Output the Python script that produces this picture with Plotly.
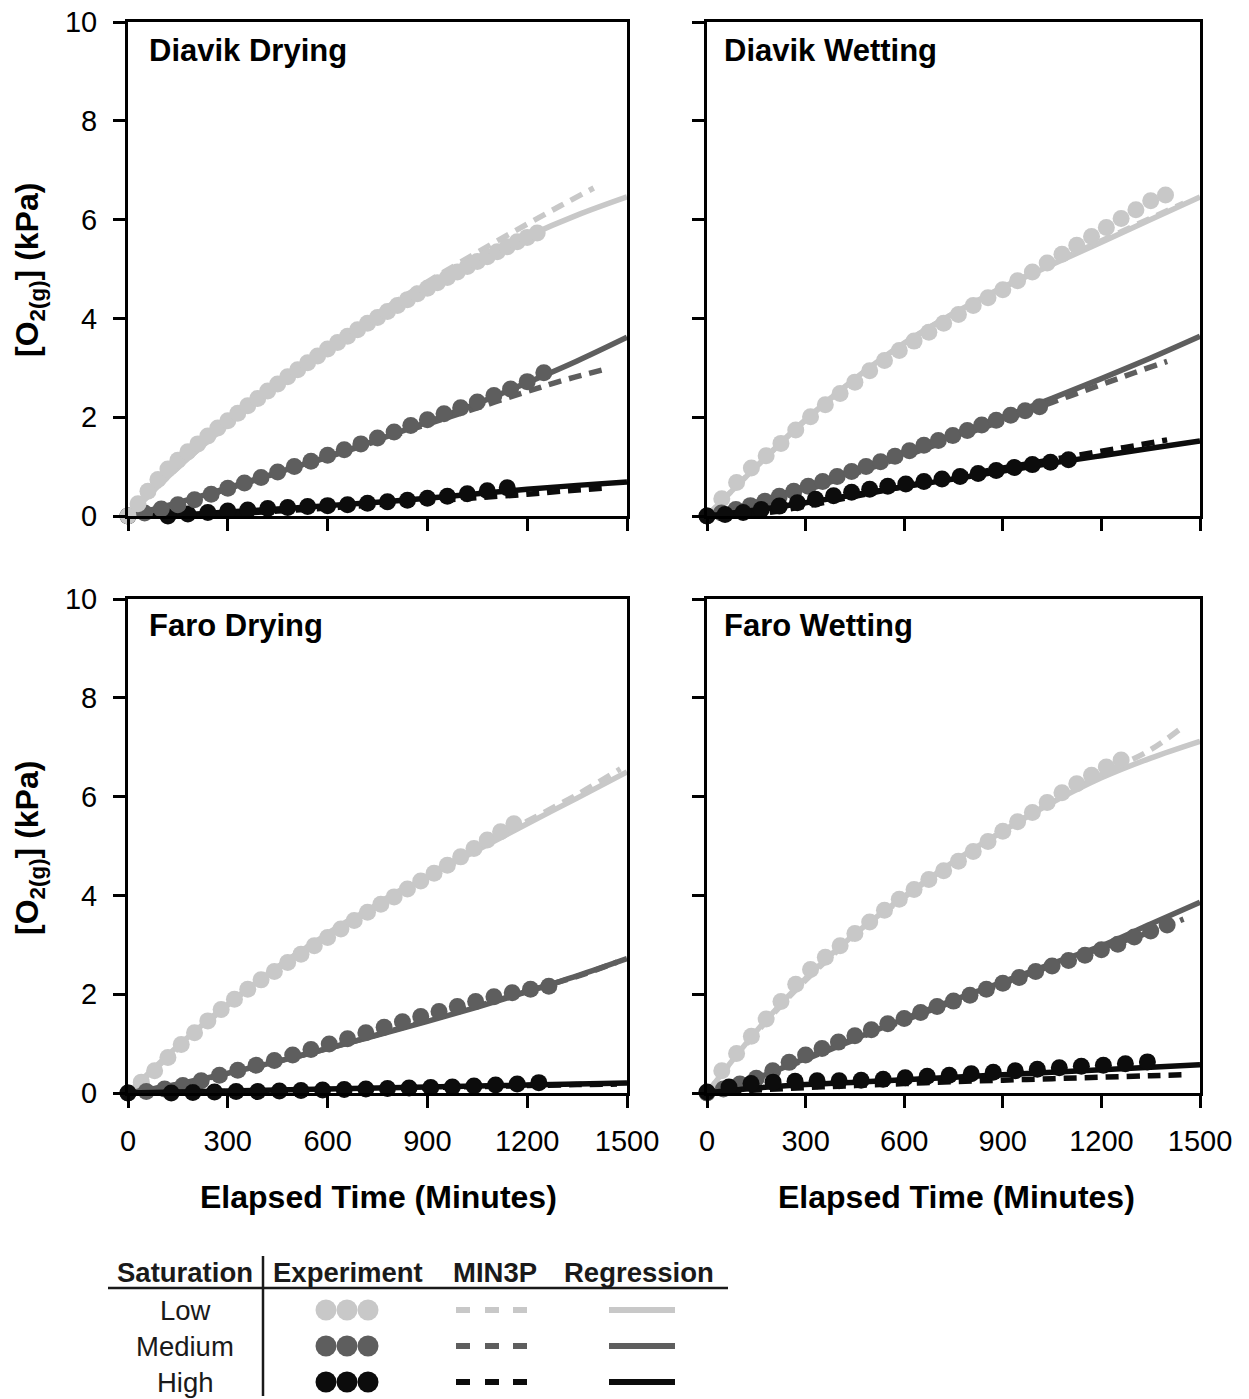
import plotly.graph_objects as go

# ---------------- data ----------------
REG_T = [0, 150, 300, 450, 600, 750, 900, 1050, 1200, 1350, 1500]

# Diavik Drying
DD_LOW_EXP_T = [0, 30, 60, 90, 120, 150, 180, 210, 240, 270, 300, 330, 360, 390, 420, 450, 480, 510, 540, 570, 600,
                630, 660, 690, 720, 750, 780, 810, 840, 870, 900, 930, 960, 990, 1020, 1050, 1080, 1110, 1140, 1170,
                1200, 1230]
DD_LOW_EXP_V = [0.00, 0.25, 0.50, 0.74, 0.95, 1.13, 1.30, 1.46, 1.62, 1.78, 1.93, 2.08, 2.23, 2.38, 2.53, 2.67, 2.82,
                2.96, 3.10, 3.24, 3.38, 3.51, 3.64, 3.77, 3.90, 4.02, 4.14, 4.26, 4.38, 4.50, 4.61, 4.72, 4.83, 4.94,
                5.05, 5.15, 5.25, 5.35, 5.45, 5.55, 5.64, 5.73]
DD_LOW_REG_V = [0, 0.98, 1.85, 2.64, 3.36, 4.02, 4.62, 5.17, 5.66, 6.09, 6.46]
DD_LOW_M3_T = [0, 100, 200, 300, 400, 500, 600, 700, 800, 900, 1000, 1100, 1200, 1300, 1400]
DD_LOW_M3_V = [0, 0.66, 1.28, 1.86, 2.41, 2.93, 3.42, 3.88, 4.32, 4.74, 5.14, 5.53, 5.91, 6.28, 6.64]

DD_MED_EXP_T = [0, 50, 100, 150, 200, 250, 300, 350, 400, 450, 500, 550, 600, 650, 700, 750, 800, 850, 900, 950,
                1000, 1050, 1100, 1150, 1200, 1250]
DD_MED_EXP_V = [0.00, 0.06, 0.14, 0.23, 0.33, 0.44, 0.56, 0.67, 0.78, 0.89, 1.00, 1.11, 1.23, 1.34, 1.46, 1.58, 1.70,
                1.83, 1.95, 2.07, 2.19, 2.31, 2.44, 2.57, 2.72, 2.90]
DD_MED_REG_V = [0, 0.27, 0.57, 0.88, 1.20, 1.54, 1.90, 2.28, 2.70, 3.14, 3.62]
DD_MED_M3_T = [0, 150, 300, 450, 600, 750, 900, 1050, 1200, 1300, 1440]
DD_MED_M3_V = [0, 0.24, 0.55, 0.87, 1.19, 1.52, 1.86, 2.19, 2.52, 2.73, 2.98]

DD_HIGH_EXP_T = [0, 60, 120, 180, 240, 300, 360, 420, 480, 540, 600, 660, 720, 780, 840, 900, 960, 1020, 1080, 1140]
DD_HIGH_EXP_V = [0.00, -0.03, 0.00, 0.04, 0.07, 0.10, 0.12, 0.15, 0.17, 0.19, 0.21, 0.23, 0.26, 0.29, 0.32, 0.36,
                 0.40, 0.45, 0.51, 0.57]
DD_HIGH_REG_V = [0, 0.02, 0.08, 0.14, 0.21, 0.28, 0.36, 0.45, 0.54, 0.62, 0.69]
DD_HIGH_M3_T = [0, 150, 300, 450, 600, 750, 900, 1050, 1200, 1300, 1440]
DD_HIGH_M3_V = [0, -0.02, 0.04, 0.10, 0.16, 0.23, 0.30, 0.37, 0.44, 0.50, 0.57]

# Diavik Wetting
DW_LOW_EXP_T = [0, 45, 90, 135, 180, 225, 270, 315, 360, 405, 450, 495, 540, 585, 630, 675, 720, 765, 810, 855, 900,
                945, 990, 1035, 1080, 1125, 1170, 1215, 1260, 1305, 1350, 1395]
DW_LOW_EXP_V = [0.00, 0.35, 0.68, 0.97, 1.22, 1.47, 1.74, 2.01, 2.25, 2.48, 2.71, 2.94, 3.15, 3.35, 3.54, 3.72, 3.90,
                4.08, 4.26, 4.42, 4.58, 4.76, 4.94, 5.12, 5.30, 5.48, 5.66, 5.84, 6.02, 6.20, 6.38, 6.50]
DW_LOW_REG_V = [0, 1.00, 1.95, 2.78, 3.50, 4.10, 4.62, 5.09, 5.54, 6.00, 6.46]
DW_LOW_M3_T = [0, 150, 300, 450, 600, 750, 900, 1050, 1200, 1350, 1450]
DW_LOW_M3_V = [0, 1.00, 1.94, 2.77, 3.49, 4.10, 4.63, 5.11, 5.57, 6.03, 6.33]

DW_MED_EXP_T = [0, 44, 88, 132, 176, 220, 264, 308, 352, 396, 440, 484, 528, 572, 616, 660, 704, 748, 792, 836, 880,
                924, 968, 1012]
DW_MED_EXP_V = [0.00, 0.06, 0.13, 0.21, 0.30, 0.40, 0.50, 0.60, 0.70, 0.80, 0.90, 1.00, 1.10, 1.21, 1.32, 1.43, 1.53,
                1.63, 1.73, 1.84, 1.94, 2.04, 2.13, 2.21]
DW_MED_REG_V = [0, 0.28, 0.60, 0.93, 1.28, 1.65, 2.00, 2.38, 2.78, 3.20, 3.64]
DW_MED_M3_T = [0, 150, 300, 450, 600, 750, 900, 1050, 1200, 1300, 1400]
DW_MED_M3_V = [0, 0.22, 0.52, 0.86, 1.21, 1.57, 1.93, 2.30, 2.66, 2.90, 3.13]

DW_HIGH_EXP_T = [0, 55, 110, 165, 220, 275, 330, 385, 440, 495, 550, 605, 660, 715, 770, 825, 880, 935, 990, 1045,
                 1100]
DW_HIGH_EXP_V = [0.00, 0.03, 0.07, 0.13, 0.20, 0.27, 0.34, 0.41, 0.48, 0.54, 0.60, 0.65, 0.70, 0.75, 0.80, 0.86, 0.92,
                 0.98, 1.04, 1.09, 1.14]
DW_HIGH_REG_V = [0, 0.12, 0.27, 0.43, 0.59, 0.75, 0.91, 1.07, 1.22, 1.37, 1.52]
DW_HIGH_M3_T = [0, 150, 300, 450, 600, 750, 900, 1050, 1200, 1300, 1400]
DW_HIGH_M3_V = [0, 0.04, 0.20, 0.40, 0.60, 0.79, 0.97, 1.14, 1.31, 1.42, 1.54]

# Faro Drying
FD_LOW_EXP_T = [0, 40, 80, 120, 160, 200, 240, 280, 320, 360, 400, 440, 480, 520, 560, 600, 640, 680, 720, 760, 800,
                840, 880, 920, 960, 1000, 1040, 1080, 1120, 1160]
FD_LOW_EXP_V = [0.00, 0.22, 0.45, 0.72, 0.98, 1.22, 1.46, 1.69, 1.90, 2.10, 2.29, 2.46, 2.64, 2.81, 2.98, 3.15, 3.32,
                3.49, 3.66, 3.82, 3.97, 4.13, 4.29, 4.45, 4.61, 4.78, 4.95, 5.12, 5.29, 5.45]
FD_LOW_REG_V = [0, 0.95, 1.80, 2.55, 3.22, 3.82, 4.38, 4.92, 5.45, 5.97, 6.50]
FD_LOW_M3_T = [0, 150, 300, 450, 600, 750, 900, 1050, 1200, 1350, 1480]
FD_LOW_M3_V = [0, 0.90, 1.78, 2.55, 3.23, 3.84, 4.41, 4.96, 5.50, 6.04, 6.56]

FD_MED_EXP_T = [0, 55, 110, 165, 220, 275, 330, 385, 440, 495, 550, 605, 660, 715, 770, 825, 880, 935, 990, 1045,
                1100, 1155, 1210, 1265]
FD_MED_EXP_V = [0.00, 0.03, 0.08, 0.15, 0.25, 0.36, 0.46, 0.56, 0.66, 0.77, 0.88, 0.99, 1.10, 1.22, 1.33, 1.44, 1.55,
                1.65, 1.75, 1.85, 1.95, 2.03, 2.10, 2.16]
FD_MED_REG_V = [0, 0.18, 0.40, 0.64, 0.90, 1.17, 1.45, 1.74, 2.05, 2.37, 2.72]
FD_MED_M3_T = [0, 150, 300, 450, 600, 750, 900, 1050, 1200, 1350, 1470]
FD_MED_M3_V = [0, 0.17, 0.39, 0.64, 0.90, 1.18, 1.47, 1.76, 2.06, 2.36, 2.65]

FD_HIGH_EXP_T = [0, 65, 130, 195, 260, 325, 390, 455, 520, 585, 650, 715, 780, 845, 910, 975, 1040, 1105, 1170, 1235]
FD_HIGH_EXP_V = [0.00, -0.01, 0.00, 0.01, 0.02, 0.03, 0.03, 0.04, 0.05, 0.06, 0.07, 0.08, 0.09, 0.10, 0.11, 0.12,
                 0.14, 0.16, 0.18, 0.21]
FD_HIGH_REG_V = [0, 0.02, 0.04, 0.06, 0.08, 0.10, 0.12, 0.14, 0.16, 0.18, 0.20]
FD_HIGH_M3_T = [0, 150, 300, 450, 600, 750, 900, 1050, 1200, 1350, 1470]
FD_HIGH_M3_V = [0, 0.01, 0.03, 0.05, 0.07, 0.09, 0.11, 0.13, 0.15, 0.17, 0.18]

# Faro Wetting
FW_LOW_EXP_T = [0, 45, 90, 135, 180, 225, 270, 315, 360, 405, 450, 495, 540, 585, 630, 675, 720, 765, 810, 855, 900,
                945, 990, 1035, 1080, 1125, 1170, 1215, 1260]
FW_LOW_EXP_V = [0.00, 0.45, 0.80, 1.15, 1.50, 1.85, 2.20, 2.50, 2.75, 2.98, 3.23, 3.46, 3.70, 3.92, 4.12, 4.32, 4.50,
                4.69, 4.89, 5.09, 5.30, 5.49, 5.68, 5.88, 6.08, 6.26, 6.43, 6.60, 6.74]
FW_LOW_REG_V = [0, 1.25, 2.32, 3.22, 3.98, 4.68, 5.30, 5.88, 6.38, 6.78, 7.12]
FW_LOW_M3_T = [0, 150, 300, 450, 600, 750, 900, 1050, 1200, 1350, 1440]
FW_LOW_M3_V = [0, 1.22, 2.28, 3.18, 3.96, 4.66, 5.30, 5.90, 6.45, 6.95, 7.37]

FW_MED_EXP_T = [0, 50, 100, 150, 200, 250, 300, 350, 400, 450, 500, 550, 600, 650, 700, 750, 800, 850, 900, 950,
                1000, 1050, 1100, 1150, 1200, 1250, 1300, 1350, 1400]
FW_MED_EXP_V = [0.00, 0.08, 0.18, 0.30, 0.45, 0.62, 0.77, 0.90, 1.03, 1.16, 1.28, 1.40, 1.51, 1.63, 1.75, 1.86, 1.98,
                2.10, 2.22, 2.34, 2.46, 2.57, 2.68, 2.79, 2.90, 3.01, 3.16, 3.28, 3.40]
FW_MED_REG_V = [0, 0.30, 0.70, 1.10, 1.50, 1.88, 2.25, 2.62, 2.98, 3.42, 3.86]
FW_MED_M3_T = [0, 150, 300, 450, 600, 750, 900, 1050, 1200, 1350, 1450]
FW_MED_M3_V = [0, 0.28, 0.68, 1.08, 1.47, 1.85, 2.22, 2.58, 2.93, 3.26, 3.52]

FW_HIGH_EXP_T = [0, 67, 134, 201, 268, 335, 402, 469, 536, 603, 670, 737, 804, 871, 938, 1005, 1072, 1139, 1206,
                 1273, 1340]
FW_HIGH_EXP_V = [0.02, 0.12, 0.19, 0.22, 0.24, 0.25, 0.25, 0.26, 0.28, 0.31, 0.34, 0.36, 0.39, 0.42, 0.45, 0.48,
                 0.51, 0.54, 0.56, 0.59, 0.63]
FW_HIGH_REG_V = [0, 0.10, 0.17, 0.22, 0.27, 0.32, 0.37, 0.42, 0.47, 0.52, 0.57]
FW_HIGH_M3_T = [0, 150, 300, 450, 600, 750, 900, 1050, 1200, 1350, 1460]
FW_HIGH_M3_V = [0, 0.06, 0.11, 0.15, 0.19, 0.23, 0.26, 0.29, 0.32, 0.35, 0.37]

PANEL_TITLES = ["Diavik Drying", "Diavik Wetting", "Faro Drying", "Faro Wetting"]
X_TICKS = [0, 300, 600, 900, 1200, 1500]
Y_TICKS = [0, 2, 4, 6, 8, 10]
SATURATIONS = ["Low", "Medium", "High"]
LEGEND_HEADERS = ["Saturation", "Experiment", "MIN3P", "Regression"]

# ---------------- styling ----------------
W, H = 1249, 1399
COL = {"Low": "#c8c8c8", "Medium": "#5e5e5e", "High": "#0c0c0c"}
FONT = "Liberation Sans, Arial, sans-serif"


def fx(px):
    return px / W


def fy(py):
    return 1 - py / H


panels = [
    dict(ax=("x", "y"), data={
        "Low": (DD_LOW_EXP_T, DD_LOW_EXP_V, DD_LOW_M3_T, DD_LOW_M3_V, DD_LOW_REG_V),
        "Medium": (DD_MED_EXP_T, DD_MED_EXP_V, DD_MED_M3_T, DD_MED_M3_V, DD_MED_REG_V),
        "High": (DD_HIGH_EXP_T, DD_HIGH_EXP_V, DD_HIGH_M3_T, DD_HIGH_M3_V, DD_HIGH_REG_V)},
         order=["High", "Medium", "Low"]),
    dict(ax=("x2", "y2"), data={
        "Low": (DW_LOW_EXP_T, DW_LOW_EXP_V, DW_LOW_M3_T, DW_LOW_M3_V, DW_LOW_REG_V),
        "Medium": (DW_MED_EXP_T, DW_MED_EXP_V, DW_MED_M3_T, DW_MED_M3_V, DW_MED_REG_V),
        "High": (DW_HIGH_EXP_T, DW_HIGH_EXP_V, DW_HIGH_M3_T, DW_HIGH_M3_V, DW_HIGH_REG_V)},
         order=["Low", "Medium", "High"]),
    dict(ax=("x3", "y3"), data={
        "Low": (FD_LOW_EXP_T, FD_LOW_EXP_V, FD_LOW_M3_T, FD_LOW_M3_V, FD_LOW_REG_V),
        "Medium": (FD_MED_EXP_T, FD_MED_EXP_V, FD_MED_M3_T, FD_MED_M3_V, FD_MED_REG_V),
        "High": (FD_HIGH_EXP_T, FD_HIGH_EXP_V, FD_HIGH_M3_T, FD_HIGH_M3_V, FD_HIGH_REG_V)},
         order=["Low", "Medium", "High"]),
    dict(ax=("x4", "y4"), data={
        "Low": (FW_LOW_EXP_T, FW_LOW_EXP_V, FW_LOW_M3_T, FW_LOW_M3_V, FW_LOW_REG_V),
        "Medium": (FW_MED_EXP_T, FW_MED_EXP_V, FW_MED_M3_T, FW_MED_M3_V, FW_MED_REG_V),
        "High": (FW_HIGH_EXP_T, FW_HIGH_EXP_V, FW_HIGH_M3_T, FW_HIGH_M3_V, FW_HIGH_REG_V)},
         order=["Low", "Medium", "High"]),
]

fig = go.Figure()
for p in panels:
    xa, ya = p["ax"]
    for sat in p["order"]:
        et, ev, mt, mv, rv = p["data"][sat]
        c = COL[sat]
        fig.add_trace(go.Scatter(x=REG_T, y=rv, mode="lines", xaxis=xa, yaxis=ya,
                                 line=dict(color=c, width=5.5, shape="spline"), cliponaxis=False,
                                 showlegend=False, hoverinfo="skip"))
        fig.add_trace(go.Scatter(x=mt, y=mv, mode="lines", xaxis=xa, yaxis=ya,
                                 line=dict(color=c, width=5.5, dash="13px,8px", shape="spline"), cliponaxis=False,
                                 showlegend=False, hoverinfo="skip"))
        fig.add_trace(go.Scatter(x=et, y=ev, mode="markers", xaxis=xa, yaxis=ya,
                                 marker=dict(color=c, size=17, line=dict(width=0)), cliponaxis=False,
                                 showlegend=False))

# axes
x_doms = [[fx(128), fx(627)], [fx(707), fx(1200)]]
y_doms = [[fy(516), fy(22)], [fy(1093), fy(599)]]
axis_common = dict(showline=True, linewidth=3, linecolor="black", mirror=True, ticks="outside",
                   ticklen=12, tickwidth=3, tickcolor="black", showgrid=False, zeroline=False, automargin=False,
                   ticklabeloverflow="allow",
                   tickfont=dict(family=FONT, size=29, color="black"), fixedrange=True)
layout_axes = {}
for i in range(4):
    r, c = divmod(i, 2)
    sfx = "" if i == 0 else str(i + 1)
    layout_axes["xaxis" + sfx] = dict(axis_common, domain=x_doms[c], anchor="y" + sfx, range=[0, 1500],
                                      tickvals=X_TICKS, showticklabels=(r == 1), ticklabelstandoff=8)
    layout_axes["yaxis" + sfx] = dict(axis_common, domain=y_doms[r], anchor="x" + sfx, range=[0, 10],
                                      tickvals=Y_TICKS, showticklabels=(c == 0), ticklabelstandoff=10)

annotations = []
title_pos = [(147, 50), (722, 50), (147, 625), (722, 625)]
for t, (px, py) in zip(PANEL_TITLES, title_pos):
    annotations.append(dict(text="<b>%s</b>" % t, x=fx(px), y=fy(py), xref="paper", yref="paper",
                            xanchor="left", yanchor="middle", showarrow=False,
                            font=dict(family=FONT, size=31, color="black")))
for cx in (378, 956):
    annotations.append(dict(text="<b>Elapsed Time (Minutes)</b>", x=fx(cx), y=fy(1197), xref="paper",
                            yref="paper", xanchor="center", yanchor="middle", showarrow=False,
                            font=dict(family=FONT, size=32, color="black")))
for cy in (270, 848):
    annotations.append(dict(text="<b>[O<sub>2(g)</sub>] (kPa)</b>", x=fx(29), y=fy(cy), xref="paper",
                            yref="paper", xanchor="center", yanchor="middle", showarrow=False, textangle=-90,
                            font=dict(family=FONT, size=32, color="black")))

# legend table
shapes = []
hdr_x = [185, 348, 495, 639]
for t, cx in zip(LEGEND_HEADERS, hdr_x):
    annotations.append(dict(text="<b>%s</b>" % t, x=fx(cx), y=fy(1272), xref="paper", yref="paper",
                            xanchor="center", yanchor="middle", showarrow=False,
                            font=dict(family=FONT, size=27.5, color="#1a1a1a")))
shapes.append(dict(type="line", xref="paper", yref="paper", x0=fx(108), x1=fx(728), y0=fy(1288), y1=fy(1288),
                   line=dict(color="#1a1a1a", width=2.5)))
shapes.append(dict(type="line", xref="paper", yref="paper", x0=fx(263), x1=fx(263), y0=fy(1256), y1=fy(1396),
                   line=dict(color="#1a1a1a", width=2.5)))
row_y = [1310, 1346, 1382]
for sat, ry in zip(SATURATIONS, row_y):
    c = COL[sat]
    annotations.append(dict(text=sat, x=fx(185), y=fy(ry), xref="paper", yref="paper", xanchor="center",
                            yanchor="middle", showarrow=False, font=dict(family=FONT, size=27.5, color="#1a1a1a")))
    for dx in (326, 347, 368):
        shapes.append(dict(type="circle", xref="paper", yref="paper", x0=fx(dx - 10.5), x1=fx(dx + 10.5),
                           y0=fy(ry + 10.5), y1=fy(ry - 10.5), fillcolor=c, line=dict(width=0)))
    for d0 in (456, 485, 513):
        shapes.append(dict(type="line", xref="paper", yref="paper", x0=fx(d0), x1=fx(d0 + 14), y0=fy(ry),
                           y1=fy(ry), line=dict(color=c, width=6)))
    shapes.append(dict(type="line", xref="paper", yref="paper", x0=fx(609), x1=fx(675), y0=fy(ry), y1=fy(ry),
                       line=dict(color=c, width=6)))

fig.update_layout(width=W, height=H, margin=dict(l=0, r=0, t=0, b=0, autoexpand=False), paper_bgcolor="white",
                  plot_bgcolor="white", showlegend=False, annotations=annotations, shapes=shapes,
                  font=dict(family=FONT, color="black"), **layout_axes)

fig.write_html("out.html", config={"displayModeBar": False, "staticPlot": True},
               post_script="document.body.style.margin='0';document.body.style.overflow='hidden';")
